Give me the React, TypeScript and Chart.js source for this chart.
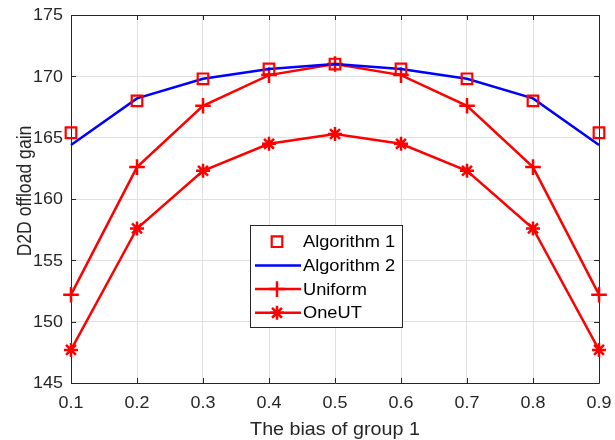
import React, { useEffect, useRef } from "react";
import { Chart, registerables } from "chart.js";

Chart.register(...registerables);

const xValues = [0.1, 0.2, 0.3, 0.4, 0.5, 0.6, 0.7, 0.8, 0.9];
const algorithm1 = [165.4, 168.0, 169.8, 170.6, 171.0, 170.6, 169.8, 168.0, 165.4];
const algorithm2 = [164.4, 168.2, 169.8, 170.6, 171.0, 170.6, 169.8, 168.2, 164.4];
const uniform = [152.2, 162.6, 167.6, 170.1, 171.0, 170.1, 167.6, 162.6, 152.2];
const oneUT = [147.7, 157.6, 162.3, 164.5, 165.3, 164.5, 162.3, 157.6, 147.7];
const seriesLabels = ["Algorithm 1", "Algorithm 2", "Uniform", "OneUT"];
const xTitle = "The bias of group 1";
const yTitle = "D2D offload gain";

const FONT = "'Liberation Sans', Arial, sans-serif";
const AXIS = "#262626";
const SX = 1.12; // horizontal text stretch of the reference

const pts = (ys: number[]) => xValues.map((x, i) => ({ x, y: ys[i] }));

function stretchedText(ctx: any, text: string, x: number, y: number, align: string, baseline: string, font: string, color: string, rotate = false) {
  ctx.save();
  ctx.font = font;
  ctx.fillStyle = color;
  ctx.textAlign = align;
  ctx.textBaseline = baseline;
  ctx.translate(x, y);
  if (rotate) {
    ctx.rotate(-Math.PI / 2);
    ctx.scale(1, SX);
  } else {
    ctx.scale(SX, 1);
  }
  ctx.fillText(text, 0, 0);
  ctx.restore();
}

function drawMarker(ctx: any, style: string, x: number, y: number, r: number) {
  ctx.beginPath();
  if (style === "rect") {
    const h = r / Math.SQRT2;
    ctx.rect(x - h, y - h, 2 * h, 2 * h);
  } else if (style === "cross") {
    ctx.moveTo(x - r, y); ctx.lineTo(x + r, y);
    ctx.moveTo(x, y - r); ctx.lineTo(x, y + r);
  } else if (style === "star") {
    ctx.moveTo(x - r, y); ctx.lineTo(x + r, y);
    ctx.moveTo(x, y - r); ctx.lineTo(x, y + r);
    const d = r * Math.SQRT1_2;
    ctx.moveTo(x - d, y - d); ctx.lineTo(x + d, y + d);
    ctx.moveTo(x - d, y + d); ctx.lineTo(x + d, y - d);
  }
  ctx.stroke();
}

const boxPlugin = {
  id: "box",
  beforeDatasetsDraw(chart: any) {
    const { ctx, chartArea: a, scales } = chart;
    ctx.save();
    ctx.strokeStyle = AXIS;
    ctx.lineWidth = 1;
    ctx.beginPath();
    scales.x.ticks.forEach((t: any) => {
      const px = Math.round(scales.x.getPixelForValue(t.value)) + 0.5;
      ctx.moveTo(px, a.bottom);
      ctx.lineTo(px, a.bottom - 5);
      ctx.moveTo(px, a.top);
      ctx.lineTo(px, a.top + 5);
    });
    scales.y.ticks.forEach((t: any) => {
      const py = Math.round(scales.y.getPixelForValue(t.value)) + 0.5;
      ctx.moveTo(a.left, py);
      ctx.lineTo(a.left + 5, py);
      ctx.moveTo(a.right, py);
      ctx.lineTo(a.right - 5, py);
    });
    ctx.stroke();
    ctx.beginPath();
    ctx.rect(Math.round(a.left) + 0.5, Math.round(a.top) + 0.5, Math.round(a.right - a.left), Math.round(a.bottom - a.top));
    ctx.stroke();
    ctx.restore();

    // tick labels
    const tickFont = `16px ${FONT}`;
    scales.x.ticks.forEach((t: any) => {
      const px = scales.x.getPixelForValue(t.value);
      stretchedText(ctx, Number(t.value).toFixed(1), px, a.bottom + 21, "center", "middle", tickFont, AXIS);
    });
    scales.y.ticks.forEach((t: any) => {
      const py = scales.y.getPixelForValue(t.value);
      stretchedText(ctx, String(t.value), a.left - 8, py + 1, "right", "middle", tickFont, AXIS);
    });
    // axis titles
    const titleFont = `17.6px ${FONT}`;
    stretchedText(ctx, xTitle, (a.left + a.right) / 2, 435, "center", "alphabetic", titleFont, AXIS);
    stretchedText(ctx, yTitle, 31, 191, "center", "alphabetic", titleFont, AXIS, true);
  },
  afterDraw(chart: any) {
    const { ctx } = chart;
    const lx = 250, ly = 225, lw = 152, lh = 102;
    ctx.save();
    ctx.fillStyle = "#ffffff";
    ctx.fillRect(lx, ly, lw, lh);
    ctx.strokeStyle = AXIS;
    ctx.lineWidth = 1;
    ctx.strokeRect(lx + 0.5, ly + 0.5, lw, lh);
    chart.data.datasets.forEach((ds: any, i: number) => {
      const y = ly + 16.7 + i * 23.7;
      const x0 = lx + 5, x1 = lx + 51, xm = lx + 27;
      if (ds.showLine !== false) {
        ctx.strokeStyle = ds.borderColor;
        ctx.lineWidth = 2.5;
        ctx.beginPath();
        ctx.moveTo(x0, y);
        ctx.lineTo(x1, y);
        ctx.stroke();
      }
      if (ds.pointRadius > 0) {
        ctx.strokeStyle = ds.pointBorderColor || ds.borderColor;
        ctx.lineWidth = ds.pointBorderWidth || 2;
        drawMarker(ctx, ds.pointStyle, xm, y, ds.pointRadius);
      }
      stretchedText(ctx, ds.label, lx + 53, y + 1, "left", "middle", `16.3px ${FONT}`, "#000000");
    });
    ctx.restore();
  },
};

export default function App() {
  const ref = useRef<HTMLCanvasElement>(null);
  useEffect(() => {
    if (!ref.current) return;
    const chart = new Chart(ref.current, {
      type: "line",
      data: {
        datasets: [
          {
            label: seriesLabels[0],
            data: pts(algorithm1),
            showLine: false,
            clip: false,
            borderColor: "#ff0000",
            pointStyle: "rect",
            pointRadius: 7.5,
            pointBorderWidth: 2.2,
            pointBackgroundColor: "rgba(0,0,0,0)",
            pointBorderColor: "#ff0000",
          },
          {
            label: seriesLabels[1],
            data: pts(algorithm2),
            clip: false,
            borderColor: "#0000ff",
            borderWidth: 2.5,
            pointRadius: 0,
            tension: 0,
          },
          {
            label: seriesLabels[2],
            data: pts(uniform),
            clip: false,
            borderColor: "#ff0000",
            borderWidth: 2.5,
            pointStyle: "cross",
            pointRadius: 7.8,
            pointBorderWidth: 2.5,
            pointBorderColor: "#ff0000",
            tension: 0,
          },
          {
            label: seriesLabels[3],
            data: pts(oneUT),
            clip: false,
            borderColor: "#ff0000",
            borderWidth: 2.5,
            pointStyle: "star",
            pointRadius: 7,
            pointBorderWidth: 2.5,
            pointBorderColor: "#ff0000",
            tension: 0,
          },
        ],
      },
      options: {
        responsive: false,
        animation: false,
        layout: { padding: { top: 15, right: 16, left: 0, bottom: 0 } },
        plugins: { legend: { display: false }, tooltip: { enabled: false } },
        scales: {
          x: {
            type: "linear",
            min: 0.1,
            max: 0.9,
            ticks: { stepSize: 0.1, display: false },
            grid: { color: "#e0e0e0", drawTicks: false },
            border: { display: false },
            title: { display: false, text: xTitle },
            afterFit: (s: any) => { s.height = 57; s.paddingLeft = 0; s.paddingRight = 0; },
          },
          y: {
            min: 145,
            max: 175,
            ticks: { stepSize: 5, display: false },
            grid: { color: "#e0e0e0", drawTicks: false },
            border: { display: false },
            title: { display: false, text: yTitle },
            afterFit: (s: any) => { s.width = 71; s.paddingTop = 0; s.paddingBottom = 0; },
          },
        },
      },
      plugins: [boxPlugin],
    });
    return () => chart.destroy();
  }, []);
  return (
    <div style={{ position: "absolute", left: 0, top: 0, width: 615, height: 440, background: "#fff" }}>
      <canvas ref={ref} width={615} height={440} />
    </div>
  );
}
